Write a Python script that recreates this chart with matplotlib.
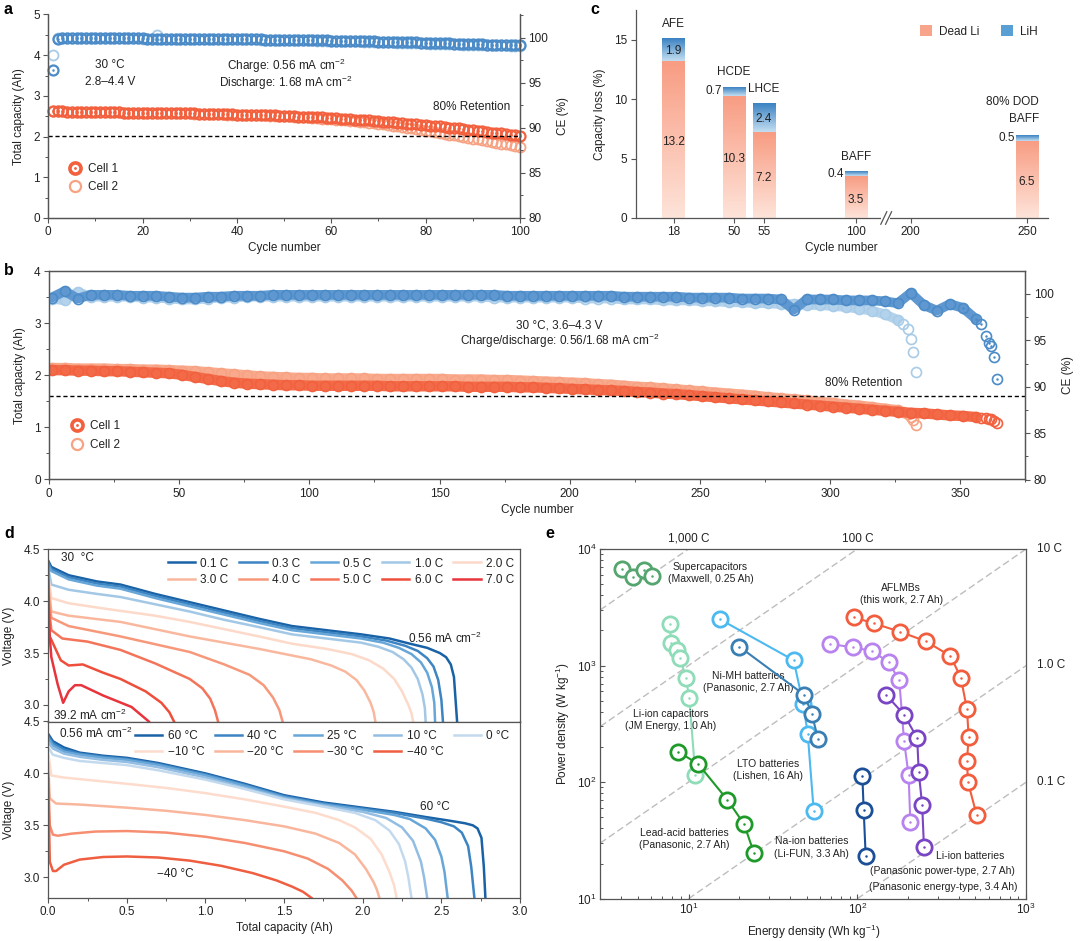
import numpy as np
import matplotlib
matplotlib.use('Agg')
import matplotlib.pyplot as plt
from matplotlib.ticker import MultipleLocator, LogLocator, NullFormatter
from matplotlib.lines import Line2D
from matplotlib.patches import Rectangle, Patch
from matplotlib.colors import LinearSegmentedColormap
from matplotlib.transforms import blended_transform_factory

plt.rcParams['font.family'] = ['Liberation Sans', 'DejaVu Sans']
plt.rcParams['mathtext.fontset'] = 'custom'
plt.rcParams['mathtext.rm'] = 'Liberation Sans'
plt.rcParams['mathtext.it'] = 'Liberation Sans:italic'
plt.rcParams['mathtext.bf'] = 'Liberation Sans:bold'
plt.rcParams['font.size'] = 8.5
plt.rcParams['axes.linewidth'] = 0.9
plt.rcParams['axes.edgecolor'] = '#555555'
plt.rcParams['xtick.color'] = '#555555'
plt.rcParams['ytick.color'] = '#555555'
plt.rcParams['xtick.labelcolor'] = '#222222'
plt.rcParams['ytick.labelcolor'] = '#222222'
plt.rcParams['xtick.labelsize'] = 8.5
plt.rcParams['ytick.labelsize'] = 8.5
plt.rcParams['axes.labelcolor'] = '#222222'
plt.rcParams['axes.labelsize'] = 8.5
plt.rcParams['text.color'] = '#222222'

# ---------------- data: panel a ----------------
a_cap1 = [2.62, 2.62, 2.62, 2.61, 2.61, 2.61, 2.61, 2.61, 2.61, 2.60,
          2.60, 2.60, 2.60, 2.60, 2.60, 2.59, 2.59, 2.59, 2.59, 2.59,
          2.59, 2.58, 2.58, 2.58, 2.58, 2.58, 2.57, 2.57, 2.57, 2.57,
          2.57, 2.56, 2.56, 2.56, 2.56, 2.55, 2.55, 2.55, 2.55, 2.54,
          2.54, 2.54, 2.53, 2.53, 2.53, 2.52, 2.52, 2.52, 2.51, 2.51,
          2.50, 2.50, 2.49, 2.49, 2.48, 2.48, 2.47, 2.47, 2.46, 2.45,
          2.45, 2.44, 2.43, 2.43, 2.42, 2.41, 2.40, 2.40, 2.39, 2.38,
          2.37, 2.36, 2.35, 2.34, 2.33, 2.32, 2.31, 2.30, 2.29, 2.28,
          2.27, 2.26, 2.25, 2.23, 2.22, 2.21, 2.20, 2.18, 2.17, 2.16,
          2.14, 2.13, 2.12, 2.10, 2.09, 2.08, 2.06, 2.05, 2.04, 2.02]
a_cap2 = [2.62, 2.62, 2.62, 2.61, 2.61, 2.61, 2.61, 2.61, 2.61, 2.60,
          2.60, 2.60, 2.60, 2.60, 2.60, 2.59, 2.59, 2.59, 2.59, 2.59,
          2.59, 2.58, 2.58, 2.58, 2.58, 2.58, 2.57, 2.57, 2.57, 2.57,
          2.56, 2.56, 2.56, 2.56, 2.55, 2.55, 2.55, 2.54, 2.54, 2.54,
          2.53, 2.53, 2.53, 2.52, 2.52, 2.52, 2.51, 2.51, 2.50, 2.50,
          2.50, 2.49, 2.48, 2.48, 2.47, 2.46, 2.45, 2.44, 2.44, 2.43,
          2.42, 2.41, 2.40, 2.39, 2.38, 2.37, 2.36, 2.34, 2.33, 2.32,
          2.30, 2.28, 2.26, 2.25, 2.23, 2.21, 2.20, 2.18, 2.16, 2.14,
          2.13, 2.11, 2.09, 2.07, 2.05, 2.03, 2.01, 1.99, 1.97, 1.95,
          1.93, 1.91, 1.89, 1.87, 1.85, 1.83, 1.81, 1.79, 1.77, 1.75]
a_ce1 = [96.4, 99.90, 99.95, 99.95, 99.95, 99.95, 99.95, 99.95, 99.95, 99.95,
         99.95, 99.95, 99.95, 99.95, 99.95, 99.94, 99.94, 99.94, 99.94, 99.94,
         99.93, 99.93, 99.93, 99.93, 99.92, 99.92, 99.92, 99.91, 99.91, 99.91,
         99.90, 99.90, 99.89, 99.89, 99.88, 99.88, 99.87, 99.87, 99.86, 99.86,
         99.85, 99.85, 99.84, 99.84, 99.83, 99.82, 99.82, 99.81, 99.80, 99.80,
         99.79, 99.78, 99.77, 99.76, 99.76, 99.75, 99.74, 99.73, 99.72, 99.71,
         99.70, 99.69, 99.68, 99.67, 99.66, 99.65, 99.64, 99.62, 99.61, 99.60,
         99.59, 99.58, 99.56, 99.55, 99.54, 99.52, 99.51, 99.50, 99.48, 99.47,
         99.45, 99.44, 99.42, 99.41, 99.39, 99.37, 99.36, 99.34, 99.32, 99.30,
         99.29, 99.27, 99.25, 99.24, 99.22, 99.21, 99.20, 99.19, 99.18, 99.17]
a_ce2 = [98.1, 99.95, 99.95, 99.95, 99.95, 99.95, 99.95, 99.95, 99.95, 99.95,
         99.95, 99.95, 99.95, 99.95, 99.94, 99.94, 99.94, 99.94, 99.94, 99.93,
         99.93, 99.93, 100.3, 99.92, 99.92, 99.92, 99.91, 99.91, 99.91, 99.90,
         99.90, 99.89, 99.89, 99.88, 99.88, 99.87, 99.87, 99.86, 99.86, 99.85,
         99.85, 99.84, 99.83, 99.83, 99.82, 99.81, 99.81, 99.80, 99.79, 99.78,
         99.77, 99.76, 99.75, 99.74, 99.73, 99.72, 99.71, 99.70, 99.69, 99.68,
         99.67, 99.66, 99.65, 99.63, 99.62, 99.61, 99.59, 99.58, 99.56, 99.55,
         99.53, 99.52, 99.50, 99.48, 99.47, 99.45, 99.43, 99.42, 99.40, 99.38,
         99.36, 99.35, 99.33, 99.31, 99.30, 99.28, 99.27, 99.25, 99.24, 99.23,
         99.22, 99.21, 99.20, 99.19, 99.18, 99.17, 99.16, 99.15, 99.14, 99.13]
a_retention = 2.02

# ---------------- data: panel b ----------------
b_cyc1 = list(range(1, 357, 5)) + [358, 360, 361, 362, 363, 364]
b_cap1 = [2.10, 2.10, 2.09, 2.09, 2.08, 2.08, 2.07, 2.06, 2.05, 2.04,
          2.01, 1.97, 1.93, 1.89, 1.86, 1.84, 1.83, 1.82, 1.81, 1.81,
          1.80, 1.80, 1.80, 1.80, 1.80, 1.80, 1.79, 1.79, 1.79, 1.79,
          1.79, 1.79, 1.78, 1.78, 1.78, 1.78, 1.77, 1.77, 1.76, 1.75,
          1.74, 1.73, 1.72, 1.71, 1.70, 1.68, 1.67, 1.65, 1.64, 1.62,
          1.60, 1.58, 1.56, 1.54, 1.52, 1.50, 1.48, 1.46, 1.44, 1.42,
          1.40, 1.38, 1.36, 1.34, 1.32, 1.30, 1.28, 1.27, 1.25, 1.23,
          1.22, 1.20,
          1.19, 1.18, 1.17, 1.16, 1.13, 1.08]
b_ce1 = [99.6, 100.3, 99.5, 99.9, 99.9, 99.9, 99.8, 99.8, 99.8, 99.7,
         99.6, 99.6, 99.7, 99.7, 99.8, 99.8, 99.8, 99.9, 99.9, 99.9,
         99.9, 99.9, 99.9, 99.9, 99.9, 99.9, 99.9, 99.9, 99.9, 99.9,
         99.9, 99.9, 99.9, 99.9, 99.9, 99.8, 99.8, 99.8, 99.8, 99.8,
         99.8, 99.8, 99.8, 99.8, 99.7, 99.7, 99.7, 99.7, 99.7, 99.6,
         99.6, 99.6, 99.6, 99.5, 99.5, 99.5, 99.4, 98.3, 99.4, 99.4,
         99.4, 99.3, 99.3, 99.3, 99.2, 99.0, 100.1, 98.8, 98.2, 98.9,
         98.5, 97.3,
         96.8, 95.5, 94.7, 94.4, 93.2, 90.8]
b_cyc2 = list(range(1, 327, 5)) + [328, 330, 331, 332, 333]
b_cap2 = [2.14, 2.14, 2.13, 2.13, 2.13, 2.12, 2.12, 2.11, 2.11, 2.10,
          2.09, 2.08, 2.06, 2.04, 2.02, 2.00, 1.98, 1.97, 1.96, 1.95,
          1.95, 1.94, 1.94, 1.94, 1.94, 1.93, 1.93, 1.93, 1.93, 1.93,
          1.93, 1.92, 1.92, 1.92, 1.91, 1.91, 1.90, 1.89, 1.88, 1.87,
          1.86, 1.85, 1.83, 1.82, 1.80, 1.78, 1.77, 1.75, 1.73, 1.71,
          1.69, 1.67, 1.65, 1.63, 1.61, 1.58, 1.56, 1.54, 1.52, 1.49,
          1.47, 1.44, 1.42, 1.39, 1.36, 1.33,
          1.30, 1.25, 1.20, 1.14, 1.05]
b_ce2 = [99.5, 99.3, 100.2, 99.7, 99.7, 99.7, 99.7, 99.6, 99.6, 99.5,
         99.4, 99.4, 99.5, 99.6, 99.6, 99.7, 99.7, 99.7, 99.7, 99.7,
         99.7, 99.7, 99.7, 99.7, 99.7, 99.7, 99.7, 99.7, 99.7, 99.7,
         99.7, 99.7, 99.7, 99.7, 99.6, 99.6, 99.6, 99.6, 99.6, 99.6,
         99.6, 99.5, 99.5, 99.5, 99.4, 99.4, 99.4, 99.3, 99.3, 99.3,
         99.2, 99.2, 99.1, 99.1, 99.0, 99.0, 98.9, 98.9, 98.8, 98.8,
         98.7, 98.6, 98.4, 98.2, 97.8, 97.2,
         96.8, 96.2, 95.1, 93.7, 91.6]
b_retention = 1.60

# ---------------- data: panel c ----------------
c_bar_cycles = ['18', '50', '55', '100', '250']
c_names = ['AFE', 'HCDE', 'LHCE', 'BAFF', '80% DOD\nBAFF']
c_dead = [13.2, 10.3, 7.2, 3.5, 6.5]
c_lih = [1.9, 0.7, 2.4, 0.4, 0.5]
c_tick_labels = ['18', '50', '55', '100', '200', '250']

# ---------------- data: panel d ----------------
d_rate_labels = ['0.1 C', '0.3 C', '0.5 C', '1.0 C', '2.0 C',
                 '3.0 C', '4.0 C', '5.0 C', '6.0 C', '7.0 C']
r01_q = [0, 0.02, 0.13, 0.31, 0.46, 0.68, 0.90, 1.12, 1.34, 1.55, 1.77, 1.99, 2.17, 2.30, 2.41, 2.49, 2.53, 2.56, 2.58, 2.60]
r01_v = [4.39, 4.33, 4.25, 4.19, 4.16, 4.07, 3.99, 3.91, 3.83, 3.76, 3.72, 3.68, 3.64, 3.59, 3.55, 3.50, 3.46, 3.39, 3.27, 2.84]
r03_q = [0, 0.02, 0.13, 0.31, 0.46, 0.68, 0.90, 1.12, 1.34, 1.55, 1.77, 1.99, 2.15, 2.27, 2.35, 2.41, 2.45, 2.48, 2.50, 2.51]
r03_v = [4.37, 4.31, 4.23, 4.17, 4.14, 4.05, 3.97, 3.89, 3.81, 3.74, 3.70, 3.66, 3.62, 3.57, 3.52, 3.45, 3.37, 3.24, 3.05, 2.84]
r05_q = [0, 0.02, 0.13, 0.31, 0.46, 0.68, 0.90, 1.12, 1.34, 1.55, 1.77, 1.99, 2.13, 2.23, 2.31, 2.37, 2.41, 2.44, 2.455, 2.46]
r05_v = [4.35, 4.29, 4.21, 4.15, 4.12, 4.03, 3.95, 3.87, 3.79, 3.72, 3.68, 3.64, 3.60, 3.55, 3.49, 3.41, 3.31, 3.17, 3.02, 2.84]
r10_q = [0, 0.02, 0.13, 0.31, 0.46, 0.68, 0.90, 1.12, 1.34, 1.55, 1.77, 1.99, 2.10, 2.19, 2.26, 2.31, 2.35, 2.38, 2.395, 2.40]
r10_v = [4.32, 4.16, 4.11, 4.07, 4.04, 3.97, 3.90, 3.82, 3.75, 3.68, 3.64, 3.60, 3.56, 3.51, 3.44, 3.36, 3.25, 3.10, 2.97, 2.84]
r20_q = [0, 0.02, 0.13, 0.35, 0.68, 0.90, 1.12, 1.34, 1.55, 1.77, 1.93, 2.04, 2.13, 2.20, 2.25, 2.29, 2.31, 2.32]
r20_v = [4.25, 4.03, 3.98, 3.93, 3.86, 3.80, 3.73, 3.66, 3.59, 3.54, 3.49, 3.43, 3.35, 3.25, 3.13, 3.00, 2.92, 2.84]
r30_q = [0, 0.02, 0.13, 0.46, 0.90, 1.34, 1.67, 1.80, 1.89, 1.96, 2.01, 2.05, 2.07, 2.08]
r30_v = [4.20, 3.90, 3.86, 3.80, 3.66, 3.54, 3.44, 3.38, 3.32, 3.24, 3.14, 3.02, 2.93, 2.84]
r40_q = [0, 0.02, 0.13, 0.46, 0.90, 1.12, 1.28, 1.37, 1.43, 1.47, 1.49]
r40_v = [4.10, 3.84, 3.76, 3.66, 3.51, 3.39, 3.29, 3.19, 3.07, 2.95, 2.84]
r50_q = [0, 0.02, 0.09, 0.25, 0.46, 0.68, 0.90, 0.98, 1.03, 1.06, 1.08]
r50_v = [4.00, 3.72, 3.64, 3.61, 3.53, 3.40, 3.25, 3.16, 3.06, 2.95, 2.84]
r60_q = [0, 0.01, 0.08, 0.13, 0.22, 0.35, 0.46, 0.62, 0.72, 0.77, 0.80]
r60_v = [3.95, 3.66, 3.43, 3.38, 3.39, 3.31, 3.25, 3.13, 3.02, 2.93, 2.84]
r70_q = [0, 0.005, 0.02, 0.06, 0.095, 0.13, 0.17, 0.21, 0.35, 0.53, 0.64]
r70_v = [4.38, 3.75, 3.46, 3.20, 3.02, 3.13, 3.19, 3.19, 3.09, 2.98, 2.84]

d_temp_labels = ['60 °C', '40 °C', '25 °C', '10 °C', '0 °C',
                 '\u221210 °C', '\u221220 °C', '\u221230 °C', '\u221240 °C']
t60_q = [0, 0.03, 0.1, 0.2, 0.35, 0.5, 0.7, 1.0, 1.25, 1.5, 1.75, 2.0, 2.2, 2.4, 2.55, 2.65, 2.70, 2.73, 2.755, 2.77, 2.78]
t60_v = [4.38, 4.31, 4.25, 4.20, 4.17, 4.15, 4.10, 4.00, 3.90, 3.79, 3.72, 3.67, 3.63, 3.58, 3.545, 3.52, 3.50, 3.47, 3.38, 3.10, 2.80]
t40_q = [0, 0.03, 0.1, 0.2, 0.35, 0.5, 0.7, 1.0, 1.25, 1.5, 1.75, 2.0, 2.2, 2.4, 2.5, 2.58, 2.63, 2.67, 2.69, 2.71]
t40_v = [4.36, 4.29, 4.23, 4.19, 4.16, 4.14, 4.09, 3.99, 3.89, 3.78, 3.71, 3.66, 3.62, 3.565, 3.53, 3.49, 3.43, 3.30, 3.10, 2.80]
t25_q = [0, 0.03, 0.1, 0.2, 0.35, 0.5, 0.7, 1.0, 1.25, 1.5, 1.75, 2.0, 2.2, 2.3, 2.4, 2.46, 2.5, 2.52, 2.54]
t25_v = [4.34, 4.27, 4.21, 4.18, 4.15, 4.13, 4.08, 3.98, 3.88, 3.77, 3.70, 3.65, 3.60, 3.56, 3.47, 3.36, 3.20, 3.05, 2.80]
t10_q = [0, 0.03, 0.1, 0.2, 0.35, 0.5, 0.7, 1.0, 1.25, 1.5, 1.75, 2.0, 2.15, 2.25, 2.32, 2.37, 2.39, 2.41]
t10_v = [4.30, 4.24, 4.19, 4.16, 4.13, 4.11, 4.06, 3.96, 3.86, 3.76, 3.69, 3.63, 3.57, 3.48, 3.35, 3.15, 3.00, 2.80]
t0_q = [0, 0.03, 0.1, 0.2, 0.35, 0.5, 0.7, 1.0, 1.25, 1.5, 1.75, 1.95, 2.08, 2.17, 2.23, 2.27, 2.29, 2.31]
t0_v = [4.25, 4.18, 4.15, 4.12, 4.10, 4.08, 4.03, 3.94, 3.85, 3.75, 3.68, 3.62, 3.55, 3.45, 3.32, 3.15, 3.00, 2.80]
tm10_q = [0, 0.02, 0.1, 0.3, 0.5, 0.75, 1.0, 1.25, 1.5, 1.7, 1.85, 1.95, 2.05, 2.12, 2.17, 2.2, 2.215]
tm10_v = [4.20, 3.98, 3.96, 3.93, 3.90, 3.86, 3.81, 3.75, 3.68, 3.62, 3.55, 3.48, 3.37, 3.22, 3.05, 2.92, 2.80]
tm20_q = [0, 0.01, 0.05, 0.2, 0.5, 0.75, 1.0, 1.25, 1.5, 1.7, 1.85, 1.95, 2.02, 2.07, 2.09, 2.106]
tm20_v = [4.10, 3.76, 3.71, 3.70, 3.67, 3.64, 3.60, 3.55, 3.49, 3.42, 3.33, 3.22, 3.08, 2.95, 2.88, 2.80]
tm30_q = [0, 0.01, 0.03, 0.06, 0.15, 0.3, 0.5, 0.75, 1.0, 1.25, 1.5, 1.65, 1.78, 1.87, 1.93, 1.96]
tm30_v = [4.00, 3.50, 3.41, 3.40, 3.42, 3.44, 3.445, 3.43, 3.39, 3.33, 3.25, 3.18, 3.08, 2.97, 2.87, 2.80]
tm40_q = [0, 0.01, 0.03, 0.05, 0.1, 0.2, 0.35, 0.5, 0.7, 0.9, 1.1, 1.3, 1.45, 1.55, 1.62, 1.675]
tm40_v = [3.95, 3.15, 3.06, 3.06, 3.12, 3.17, 3.195, 3.20, 3.19, 3.16, 3.11, 3.04, 2.97, 2.91, 2.86, 2.80]

# ---------------- data: panel e ----------------
e_super_E = [4.05, 4.71, 5.45, 6.04]
e_super_P = [6730, 5770, 6610, 5850]
e_lic_E = [7.72, 7.89, 8.52, 8.93, 9.62, 10.1, 10.97]
e_lic_P = [2270, 1550, 1350, 1167, 786, 526, 115]
e_lead_E = [8.68, 11.4, 17.0, 21.3, 24.4]
e_lead_P = [182, 143, 70.3, 43.7, 24.7]
e_lto_E = [15.3, 41.9, 47.8, 50.8, 55.1]
e_lto_P = [2496, 1110, 466, 260, 57]
e_nimh_E = [20.0, 48.5, 53.7, 58.5]
e_nimh_P = [1449, 560, 385, 234]
e_na_E = [107, 109, 112]
e_na_P = [113, 57.4, 23.1]
e_lip_E = [69, 94, 122, 153, 177, 189, 201, 206]
e_lip_P = [1531, 1430, 1334, 1067, 749, 226, 115, 45.2]
e_lie_E = [148, 189, 226, 231, 242, 248]
e_lie_P = [560, 379, 239, 121, 63.5, 27.5]
e_afl_E = [95.4, 125, 180, 254, 356, 410, 446, 456, 446, 452, 508]
e_afl_P = [2583, 2302, 1941, 1615, 1207, 786, 420, 246, 151, 100, 52.5]
e_crates = [1000, 100, 10, 1, 0.1]
e_crate_labels = ['1,000 C', '100 C', '10 C', '1.0 C', '0.1 C']

# ---------------- colours ----------------
red1, red2 = '#f2603e', '#f7a283'
blue1, blue2 = '#4b8bc8', '#a8cbe8'
rate_colors = ['#1a62a6', '#3c84c2', '#67a6d8', '#a3c8e6', '#fcd9c9',
               '#f9b89e', '#f7987b', '#f4745a', '#ef4e3a', '#e8343c']
temp_colors = ['#1a62a6', '#3c84c2', '#67a6d8', '#93bde2', '#c3daee',
               '#fddccd', '#f9b69c', '#f68f72', '#ef5e40']

W, H = 1080, 941
fig = plt.figure(figsize=(W / 100, H / 100), dpi=100)


def box(l, t, r, b):
    return fig.add_axes([l / W, 1 - b / H, (r - l) / W, (b - t) / H])


def ticks(ax, direction='out'):
    ax.tick_params(which='major', direction=direction, length=3.5, width=0.8, pad=2.5)
    ax.tick_params(which='minor', direction=direction, length=2.2, width=0.7)


def panel_label(x, y, s):
    fig.text(x / W, 1 - y / H, s, fontsize=11.5, fontweight='bold', color='black',
             ha='left', va='top')


def cell_legend(ax, anchor):
    h1 = Line2D([], [], ls='none', marker='o', ms=8, mfc='none', mec=red1, mew=2.6)
    h1d = Line2D([], [], ls='none', marker='.', ms=2, color=red1)
    h2 = Line2D([], [], ls='none', marker='o', ms=8, mfc='none', mec=red2, mew=1.6)
    ax.legend([(h1, h1d), h2], ['Cell 1', 'Cell 2'], loc='center left',
              bbox_to_anchor=anchor, frameon=False, handlelength=1.0,
              handletextpad=0.6, labelspacing=0.55, borderaxespad=0, fontsize=8.5)


# ================= panel a =================
axa = box(48.2, 14.5, 520, 218)
axa2 = axa.twinx()
cyc_a = np.arange(1, len(a_cap1) + 1)
axa.set_xlim(0, 100)
axa.set_ylim(0, 5)
axa2.set_ylim(80, 102.6)
axa.spines['top'].set_visible(False)
axa2.spines['top'].set_visible(False)
axa.plot(cyc_a, a_cap2, 'o', ms=7.2, mfc='none', mec=red2, mew=1.3, clip_on=False)
axa.plot(cyc_a, a_cap1, 'o', ms=7.2, mfc='none', mec=red1, mew=1.6, clip_on=False)
axa.plot(cyc_a, a_cap1, '.', ms=1.6, color=red1, clip_on=False)
axa2.plot(cyc_a, a_ce2, 'o', ms=7.2, mfc='none', mec=blue2, mew=1.3, clip_on=False)
axa2.plot(cyc_a, a_ce1, 'o', ms=7.2, mfc='none', mec=blue1, mew=1.6, clip_on=False)
axa2.plot(cyc_a, a_ce1, '.', ms=1.6, color=blue1, clip_on=False)
axa.axhline(a_retention, color='black', lw=1.0, ls=(0, (3, 2)))
axa.text(13.1, 3.75, '30 °C', ha='center', va='center')
axa.text(13.1, 3.33, '2.8–4.4 V', ha='center', va='center')
axa.text(50.4, 3.74, 'Charge: 0.56 mA cm$^{-2}$', ha='center', va='center')
axa.text(50.4, 3.31, 'Discharge: 1.68 mA cm$^{-2}$', ha='center', va='center')
axa.text(89.8, 2.72, '80% Retention', ha='center', va='center')
axa.xaxis.set_major_locator(MultipleLocator(20))
axa.xaxis.set_minor_locator(MultipleLocator(10))
axa.yaxis.set_major_locator(MultipleLocator(1))
axa.yaxis.set_minor_locator(MultipleLocator(0.5))
axa2.yaxis.set_major_locator(MultipleLocator(5))
axa2.yaxis.set_minor_locator(MultipleLocator(2.5))
ticks(axa)
ticks(axa2)
axa.set_xlabel('Cycle number', labelpad=3)
axa.set_ylabel('Total capacity (Ah)', labelpad=6)
axa2.set_ylabel('CE (%)', labelpad=6)
cell_legend(axa, (0.035, 0.197))
panel_label(4, 2, 'a')

# ================= panel b =================
axb = box(49, 271.2, 1025.3, 479.5)
axb2 = axb.twinx()
axb.set_xlim(0, 375)
axb.set_ylim(0, 4)
axb2.set_ylim(80, 102.45)
axb.plot(b_cyc2[:-5], b_cap2[:-5], '-', color='#f9a98c', lw=7.5, solid_capstyle='round')
axb.plot(b_cyc2, b_cap2, 'o', ms=7.2, mfc='none', mec=red2, mew=1.2)
axb.plot(b_cyc1[:-6], b_cap1[:-6], '-', color='#f36a48', lw=7.5, solid_capstyle='round')
axb.plot(b_cyc1, b_cap1, 'o', ms=7.2, mfc='none', mec=red1, mew=1.2)
axb2.plot(b_cyc2[:-5], b_ce2[:-5], '-', color='#b3d2ec', lw=7.0, solid_capstyle='round')
axb2.plot(b_cyc2, b_ce2, 'o', ms=7.2, mfc='none', mec=blue2, mew=1.2)
axb2.plot(b_cyc1[:-6], b_ce1[:-6], '-', color='#5f98d0', lw=7.0, solid_capstyle='round')
axb2.plot(b_cyc1, b_ce1, 'o', ms=7.2, mfc='none', mec=blue1, mew=1.2)
axb2.plot(b_cyc1[-8:], b_ce1[-8:], '.', ms=1.6, color=blue1)
axb.axhline(b_retention, color='black', lw=1.0, ls=(0, (3, 2)))
axb.text(196, 2.95, '30 °C, 3.6–4.3 V', ha='center', va='center')
axb.text(196, 2.67, 'Charge/discharge: 0.56/1.68 mA cm$^{-2}$', ha='center', va='center')
axb.text(313, 1.85, '80% Retention', ha='center', va='center')
axb.xaxis.set_major_locator(MultipleLocator(50))
axb.xaxis.set_minor_locator(MultipleLocator(25))
axb.yaxis.set_major_locator(MultipleLocator(1))
axb.yaxis.set_minor_locator(MultipleLocator(0.5))
axb2.yaxis.set_major_locator(MultipleLocator(5))
axb2.yaxis.set_minor_locator(MultipleLocator(2.5))
ticks(axb)
ticks(axb2)
axb.set_xlabel('Cycle number', labelpad=3)
axb.set_ylabel('Total capacity (Ah)', labelpad=6)
axb2.set_ylabel('CE (%)', labelpad=6)
cell_legend(axb, (0.018, 0.211))
panel_label(4, 263, 'b')

# ================= panel c =================
axc = box(635.7, 10.3, 1047.9, 218)
c_xpos = {'18': 0.0, '50': 2.02, '55': 3.02, '100': 6.1, '200': 7.93, '250': 11.82}
bw = 0.75
dead_cmap = LinearSegmentedColormap.from_list('dead', ['#fee4da', '#f89c82'])
lih_cmap = LinearSegmentedColormap.from_list('lih', ['#c4def1', '#3a82c2'])
grad = np.linspace(0, 1, 256).reshape(-1, 1)
for cyc, name, dv, lv in zip(c_bar_cycles, c_names, c_dead, c_lih):
    x = c_xpos[cyc]
    axc.imshow(grad, extent=[x - bw / 2, x + bw / 2, 0, dv], origin='lower',
               aspect='auto', cmap=dead_cmap, zorder=2, interpolation='bilinear')
    axc.imshow(grad, extent=[x - bw / 2, x + bw / 2, dv, dv + lv], origin='lower',
               aspect='auto', cmap=lih_cmap, zorder=2, interpolation='bilinear')
    axc.text(x, dv / 2 - 0.2, f'{dv:.1f}', ha='center', va='center', fontsize=8.5, zorder=4)
    if lv >= 1:
        axc.text(x, dv + lv / 2 - 0.1, f'{lv:.1f}', ha='center', va='center', fontsize=8.5, zorder=4)
    else:
        axc.text(x - bw / 2 - 0.03, dv + lv / 2, f'{lv:.1f}', ha='right', va='center', fontsize=8.5)
    if '\n' in name:
        axc.text(x + bw / 2 + 0.03, dv + lv + 0.8, name, ha='right', va='bottom',
                 multialignment='right', fontsize=8.5, linespacing=1.55)
    else:
        axc.text(x, dv + lv + 0.75, name, ha='center', va='bottom', fontsize=8.5)
axc.set_xlim(-1.27, 12.52)
axc.set_ylim(0, 17.47)
axc.spines['top'].set_visible(False)
axc.spines['right'].set_visible(False)
axc.set_xticks([c_xpos[k] for k in c_tick_labels], c_tick_labels)
axc.yaxis.set_major_locator(MultipleLocator(5))
ticks(axc)
axc.set_xlabel('Cycle number', labelpad=3)
axc.set_ylabel('Capacity loss (%)', labelpad=6)
trans = blended_transform_factory(axc.transData, axc.transAxes)
axc.add_patch(Rectangle((6.95, -0.03), 0.3, 0.06, transform=trans, facecolor='white',
                        edgecolor='none', clip_on=False, zorder=5))
for dx in (-0.07, 0.09):
    axc.plot([7.1 + dx - 0.1, 7.1 + dx + 0.1], [-0.03, 0.03], transform=trans,
             color='#555555', lw=0.9, clip_on=False, zorder=6)
axc.legend([Patch(facecolor='#f8a48a'), Patch(facecolor='#5a9fd4')], ['Dead Li', 'LiH'],
           loc='upper right', bbox_to_anchor=(1.0, 0.98), ncol=2, frameon=False,
           handlelength=1.0, handleheight=1.1, handletextpad=0.6, columnspacing=1.8,
           fontsize=8.5)
panel_label(590, 2, 'c')

# ================= panel d =================
axd1 = box(48.2, 549.3, 520, 721.5)
axd2 = box(48.2, 721.5, 520, 898)
rate_curves = [(r01_q, r01_v), (r03_q, r03_v), (r05_q, r05_v), (r10_q, r10_v), (r20_q, r20_v),
               (r30_q, r30_v), (r40_q, r40_v), (r50_q, r50_v), (r60_q, r60_v), (r70_q, r70_v)]
rate_lines = []
for (q, v), col, lab in zip(rate_curves, rate_colors, d_rate_labels):
    ln, = axd1.plot(q, v, color=col, lw=1.8, label=lab, solid_joinstyle='round')
    rate_lines.append(ln)
temp_curves = [(t60_q, t60_v), (t40_q, t40_v), (t25_q, t25_v), (t10_q, t10_v), (t0_q, t0_v),
               (tm10_q, tm10_v), (tm20_q, tm20_v), (tm30_q, tm30_v), (tm40_q, tm40_v)]
temp_lines = []
for (q, v), col, lab in zip(temp_curves, temp_colors, d_temp_labels):
    ln, = axd2.plot(q, v, color=col, lw=1.8, label=lab, solid_joinstyle='round')
    temp_lines.append(ln)
for ax, lo in ((axd1, 2.84), (axd2, 2.8)):
    ax.set_xlim(0, 3)
    ax.set_ylim(lo, 4.5)
    ax.yaxis.set_major_locator(MultipleLocator(0.5))
    ax.yaxis.set_minor_locator(MultipleLocator(0.25))
    ax.xaxis.set_major_locator(MultipleLocator(0.5))
    ax.xaxis.set_minor_locator(MultipleLocator(0.25))
    ticks(ax)
    ax.set_ylabel('Voltage (V)', labelpad=6)
axd1.tick_params(axis='x', which='both', bottom=False, labelbottom=False)
axd2.set_xlabel('Total capacity (Ah)', labelpad=3)
order1 = [0, 5, 1, 6, 2, 7, 3, 8, 4, 9]
axd1.legend([rate_lines[i] for i in order1], [d_rate_labels[i] for i in order1],
            ncol=5, loc='upper right', bbox_to_anchor=(1.005, 1.0), frameon=False,
            handlelength=2.3, handletextpad=0.45, columnspacing=0.9, labelspacing=0.35,
            borderaxespad=0.3, fontsize=8.5)
order2 = [0, 5, 1, 6, 2, 7, 3, 8, 4]
axd2.legend([temp_lines[i] for i in order2], [d_temp_labels[i] for i in order2],
            ncol=5, loc='upper right', bbox_to_anchor=(0.995, 1.0), frameon=False,
            handlelength=2.3, handletextpad=0.45, columnspacing=0.9, labelspacing=0.35,
            borderaxespad=0.3, fontsize=8.5)
axd1.text(0.08, 4.42, '30  °C', ha='left', va='center')
axd1.text(2.52, 3.64, '0.56 mA cm$^{-2}$', ha='center', va='center')
axd1.text(0.03, 2.9, '39.2 mA cm$^{-2}$', ha='left', va='center')
axd2.text(0.07, 4.39, '0.56 mA cm$^{-2}$', ha='left', va='center')
axd2.text(2.46, 3.68, '60 °C', ha='center', va='center')
axd2.text(0.81, 3.03, '\u221240 °C', ha='center', va='center')
panel_label(4, 526, 'd')

# ================= panel e =================
axe = box(600.3, 548.9, 1026.2, 898.7)
axe.set_xscale('log')
axe.set_yscale('log')
axe.set_xlim(3, 1000)
axe.set_ylim(10, 1e4)
for c in e_crates:
    axe.axline((1, c), (1000, 1000 * c), color='#bdbdbd', lw=1.0, ls=(0, (5, 2.5)), zorder=1)
tr_top = blended_transform_factory(axe.transData, axe.transAxes)
tr_right = blended_transform_factory(axe.transAxes, axe.transData)
for c, lab in zip(e_crates, e_crate_labels):
    top_E = 1e4 / c
    if top_E < 1000:
        axe.text(top_E, 1.012, lab, transform=tr_top, ha='center', va='bottom')
    else:
        axe.text(1.025, 1000 * c, lab, transform=tr_right, ha='left', va='center')

series_e = [
    (e_lic_E, e_lic_P, '#8edcb8', True),
    (e_super_E, e_super_P, '#55a56e', False),
    (e_lead_E, e_lead_P, '#1f9a2a', True),
    (e_lto_E, e_lto_P, '#4cb9f0', True),
    (e_nimh_E, e_nimh_P, '#3a7fb4', True),
    (e_na_E, e_na_P, '#1b4f98', True),
    (e_lip_E, e_lip_P, '#b883ee', True),
    (e_lie_E, e_lie_P, '#7a45c4', True),
    (e_afl_E, e_afl_P, '#f25d3d', True),
]
for i, (E, P, col, line) in enumerate(series_e):
    if line:
        axe.plot(E, P, '-', color=col, lw=1.5, zorder=3 + i)
    axe.plot(E, P, 'o', ms=11, mfc='white', mec=col, mew=2.0, ls='none', zorder=3 + i)
    axe.plot(E, P, '.', ms=1.6, color=col, ls='none', zorder=3 + i)

e_txt = 7.5
axe.text(13.5, 6200, 'Supercapacitors\n(Maxwell, 0.25 Ah)', ha='center', va='center', fontsize=e_txt, linespacing=1.3)
axe.text(182, 4100, 'AFLMBs\n(this work, 2.7 Ah)', ha='center', va='center', fontsize=e_txt, linespacing=1.3)
axe.text(22.5, 725, 'Ni-MH batteries\n(Panasonic, 2.7 Ah)', ha='center', va='center', fontsize=e_txt, linespacing=1.3)
axe.text(7.8, 341, 'Li-ion capacitors\n(JM Energy, 1.0 Ah)', ha='center', va='center', fontsize=e_txt, linespacing=1.3, zorder=20)
axe.text(29.4, 127, 'LTO batteries\n(Lishen, 16 Ah)', ha='center', va='center', fontsize=e_txt, linespacing=1.3)
axe.text(9.44, 32.7, 'Lead-acid batteries\n(Panasonic, 2.7 Ah)', ha='center', va='center', fontsize=e_txt, linespacing=1.3)
axe.text(53.7, 27.5, 'Na-ion batteries\n(Li-FUN, 3.3 Ah)', ha='center', va='center', fontsize=e_txt, linespacing=1.3)
axe.text(467, 23.2, 'Li-ion batteries', ha='center', va='center', fontsize=e_txt)
axe.text(321, 17.3, '(Panasonic power-type, 2.7 Ah)', ha='center', va='center', fontsize=e_txt)
axe.text(321, 12.5, '(Panasonic energy-type, 3.4 Ah)', ha='center', va='center', fontsize=e_txt)
axe.xaxis.set_major_locator(LogLocator(base=10, numticks=10))
axe.xaxis.set_minor_locator(LogLocator(base=10, subs=np.arange(2, 10), numticks=20))
axe.yaxis.set_major_locator(LogLocator(base=10, numticks=10))
axe.yaxis.set_minor_locator(LogLocator(base=10, subs=np.arange(2, 10), numticks=20))
axe.xaxis.set_minor_formatter(NullFormatter())
axe.yaxis.set_minor_formatter(NullFormatter())
ticks(axe, direction='in')
axe.tick_params(which='both', top=False, right=False)
axe.set_xlabel('Energy density (Wh kg$^{-1}$)', labelpad=4)
axe.set_ylabel('Power density (W kg$^{-1}$)', labelpad=4)
panel_label(545, 526, 'e')

fig.savefig('out.png', dpi=100)
